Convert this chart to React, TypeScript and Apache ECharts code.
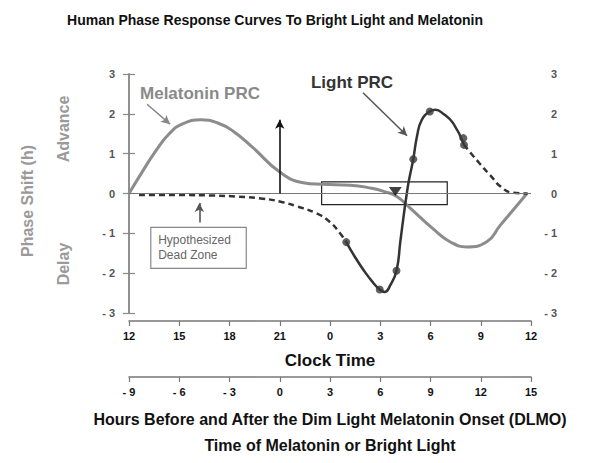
import React, { useEffect, useRef } from "react";
import * as echarts from "echarts";

// x = hours after 12:00 (noon); clock label = (12 + x) mod 24; DLMO label = x - 9
const xTicksClock = [12, 15, 18, 21, 0, 3, 6, 9, 12];
const xTicksDLMO = [-9, -6, -3, 0, 3, 6, 9, 12, 15];
const yTicks = [-3, -2, -1, 0, 1, 2, 3];

const melatoninPRC: number[][] = [
  [0, 0], [0.8, 0.55], [1.6, 1.07], [2.4, 1.5], [3.2, 1.75], [4.3, 1.85],
  [5.3, 1.77], [6.2, 1.57], [7.4, 1.15], [9.0, 0.54], [10.4, 0.27], [11.5, 0.23],
  [13.2, 0.21], [14.5, 0.13], [15.3, 0.04], [15.97, -0.07], [16.77, -0.36],
  [18.16, -0.89], [19.16, -1.21], [20.16, -1.34], [21.36, -1.21], [22.16, -0.8],
  [22.96, -0.4], [23.76, 0],
];

const lightPRCSolid: number[][] = [
  [12.97, -1.22], [13.5, -1.6], [13.97, -1.9], [14.5, -2.2], [14.97, -2.41],
  [15.27, -2.47], [15.6, -2.3], [15.97, -1.94], [16.2, -1.2], [16.4, -0.55],
  [16.55, -0.1], [16.7, 0.3], [16.97, 0.86], [17.2, 1.45], [17.47, 1.84],
  [17.96, 2.06], [18.3, 2.1], [18.76, 2.0], [19.36, 1.76], [20.0, 1.22],
];

const lightPRCDashed: number[][] = [
  [20.0, 1.22], [20.96, 0.74], [21.56, 0.46], [22.2, 0.17], [22.9, 0.02], [23.8, 0],
];

const deadZoneDashed: number[][] = [
  [0.6, -0.04], [3, -0.04], [5, -0.05], [6.5, -0.08], [8.0, -0.13], [9.0, -0.2],
  [10.0, -0.32], [11.2, -0.5], [12.0, -0.72], [12.6, -1.0], [12.97, -1.22],
];

const lightPoints: number[][] = [
  [12.97, -1.22], [14.97, -2.41], [15.97, -1.94], [16.97, 0.86], [17.96, 2.06],
  [19.96, 1.39], [20.0, 1.22],
];

const dlmoMarker: number[][] = [[15.9, 0.05]];

const FONT = "'Liberation Sans', Arial, sans-serif";

function fmtNeg(v: number) {
  return v < 0 ? "- " + -v : String(v);
}

export default function App() {
  const ref = useRef<HTMLDivElement>(null);
  useEffect(() => {
    if (!ref.current) return;
    const chart = echarts.init(ref.current, null, { renderer: "svg" });
    const yAxisBase = {
      type: "value",
      min: -3,
      max: 3,
      interval: 1,
      axisLine: { show: true, lineStyle: { color: "#888", width: 1.5 } },
      axisTick: { show: true, length: 6, lineStyle: { color: "#888", width: 1.2 } },
      splitLine: { show: false },
    };
    const xAxisBase = {
      type: "value",
      min: 0,
      max: 24,
      interval: 3,
      position: "bottom",
      axisLine: { show: true, onZero: false, lineStyle: { color: "#777", width: 1.5 } },
      axisTick: { show: true, length: 5, lineStyle: { color: "#777", width: 1.2 } },
      splitLine: { show: false },
      nameLocation: "middle",
    };
    chart.setOption({
      animation: false,
      grid: { left: 129, right: 82, top: 74, bottom: 143 },
      xAxis: [
        {
          ...xAxisBase,
          offset: 8,
          axisLabel: {
            formatter: (v: number) => String(xTicksClock[Math.round(v / 3)]),
            color: "#111", fontWeight: "bold", fontSize: 11, fontFamily: FONT, margin: 9,
          },
          name: "Clock Time",
          nameGap: 31,
          nameTextStyle: { fontSize: 17, fontWeight: "bold", color: "#111", fontFamily: FONT, verticalAlign: "top" },
        },
        {
          ...xAxisBase,
          offset: 64,
          axisLabel: {
            formatter: (v: number) => fmtNeg(xTicksDLMO[Math.round(v / 3)]),
            color: "#111", fontWeight: "bold", fontSize: 11, fontFamily: FONT, margin: 9,
          },
          name: "Hours Before and After the Dim Light Melatonin Onset (DLMO)\nTime of Melatonin or Bright Light",
          nameGap: 29,
          nameTextStyle: { fontSize: 16, fontWeight: "bold", color: "#111", fontFamily: FONT, lineHeight: 26, verticalAlign: "top" },
        },
      ],
      yAxis: [
        {
          ...yAxisBase,
          position: "left",
          axisLabel: {
            formatter: (v: number) => fmtNeg(yTicks[yTicks.indexOf(v)]),
            color: "#555", fontWeight: "bold", fontSize: 11, fontFamily: FONT, margin: 14,
          },
        },
        {
          ...yAxisBase,
          position: "right",
          axisLabel: {
            formatter: (v: number) => fmtNeg(yTicks[yTicks.indexOf(v)]),
            color: "#555", fontWeight: "bold", fontSize: 11, fontFamily: FONT, margin: 26, align: "right",
          },
        },
      ],
      series: [
        {
          name: "Melatonin PRC",
          type: "line",
          data: melatoninPRC,
          smooth: 0.5,
          symbol: "none",
          lineStyle: { color: "#8c8c8c", width: 3 },
          z: 2,
          markLine: {
            silent: true,
            symbol: "none",
            label: { show: false },
            lineStyle: { color: "#777", width: 1, type: "solid" },
            data: [{ yAxis: 0 }],
          },
          markArea: {
            silent: true,
            data: [
              [
                {
                  coord: [1.3, -0.85],
                  itemStyle: { color: "rgba(255,255,255,0)", borderColor: "#888", borderWidth: 1.2 },
                  label: {
                    show: true,
                    position: "insideLeft",
                    distance: 8,
                    formatter: "Hypothesized\nDead Zone",
                    color: "#666",
                    fontSize: 12,
                    lineHeight: 15,
                    fontFamily: FONT,
                    align: "left",
                  },
                },
                { coord: [7.0, -1.88] },
              ],
              [
                {
                  coord: [11.5, 0.29],
                  itemStyle: { color: "rgba(255,255,255,0)", borderColor: "#222", borderWidth: 1.2 },
                  label: { show: false },
                },
                { coord: [19.0, -0.28] },
              ],
            ],
          },
        },
        {
          name: "Dead zone",
          type: "line",
          data: deadZoneDashed,
          smooth: 0.5,
          symbol: "none",
          lineStyle: { color: "#333", width: 2.5, type: [6, 4] },
          z: 3,
        },
        {
          name: "Light PRC",
          type: "line",
          data: lightPRCSolid,
          smooth: 0.5,
          symbol: "none",
          lineStyle: { color: "#333", width: 2.5 },
          z: 4,
        },
        {
          name: "Light PRC extrapolated",
          type: "line",
          data: lightPRCDashed,
          smooth: 0.5,
          symbol: "none",
          lineStyle: { color: "#333", width: 2.5, type: [6, 4] },
          z: 4,
        },
        {
          name: "Light points",
          type: "scatter",
          data: lightPoints,
          symbol: "circle",
          symbolSize: 8,
          itemStyle: { color: "#3a3a3a" },
          z: 5,
        },
        {
          name: "DLMO marker",
          type: "scatter",
          data: dlmoMarker,
          symbol: "triangle",
          symbolRotate: 180,
          symbolSize: [13, 9],
          itemStyle: { color: "#111" },
          z: 6,
          markLine: {
            silent: true,
            label: { show: false },
            symbol: ["none", "arrow"],
            symbolSize: [7, 9],
            data: [
              [
                { coord: [9.0, 0], lineStyle: { color: "#111", width: 1.6, type: "solid" } },
                { coord: [9.0, 1.85] },
              ],
              [
                { coord: [4.2, -0.73], lineStyle: { color: "#555", width: 1.6, type: "solid" } },
                { coord: [4.2, -0.24] },
              ],
              [
                { coord: [1.08, 2.24], lineStyle: { color: "#888", width: 1.5, type: "solid" } },
                { coord: [2.45, 1.74] },
              ],
              [
                { coord: [13.97, 2.53], lineStyle: { color: "#555", width: 1.5, type: "solid" } },
                { coord: [16.6, 1.45] },
              ],
            ],
          },
        },
      ],
      graphic: [
        {
          type: "text", x: 275, y: 20,
          style: { text: "Human Phase Response Curves To Bright Light and Melatonin", fill: "#111", font: `bold 14px ${FONT}`, textAlign: "center", textVerticalAlign: "middle" },
        },
        {
          type: "text", x: 27, y: 201, rotation: Math.PI / 2,
          style: { text: "Phase Shift (h)", fill: "#9a9a9a", font: `bold 16px ${FONT}`, textAlign: "center", textVerticalAlign: "middle" },
        },
        {
          type: "text", x: 63, y: 129, rotation: Math.PI / 2,
          style: { text: "Advance", fill: "#9a9a9a", font: `bold 16px ${FONT}`, textAlign: "center", textVerticalAlign: "middle" },
        },
        {
          type: "text", x: 63, y: 264, rotation: Math.PI / 2,
          style: { text: "Delay", fill: "#9a9a9a", font: `bold 16px ${FONT}`, textAlign: "center", textVerticalAlign: "middle" },
        },
        {
          type: "text", x: 200, y: 93,
          style: { text: "Melatonin PRC", fill: "#8a8a8a", font: `bold 17px ${FONT}`, textAlign: "center", textVerticalAlign: "middle" },
        },
        {
          type: "text", x: 352, y: 82,
          style: { text: "Light PRC", fill: "#333", font: `bold 17px ${FONT}`, textAlign: "center", textVerticalAlign: "middle" },
        },
      ],
    });
    return () => chart.dispose();
  }, []);
  return <div ref={ref} style={{ width: 613, height: 463, position: "absolute", left: 0, top: 0, background: "#fff" }} />;
}
